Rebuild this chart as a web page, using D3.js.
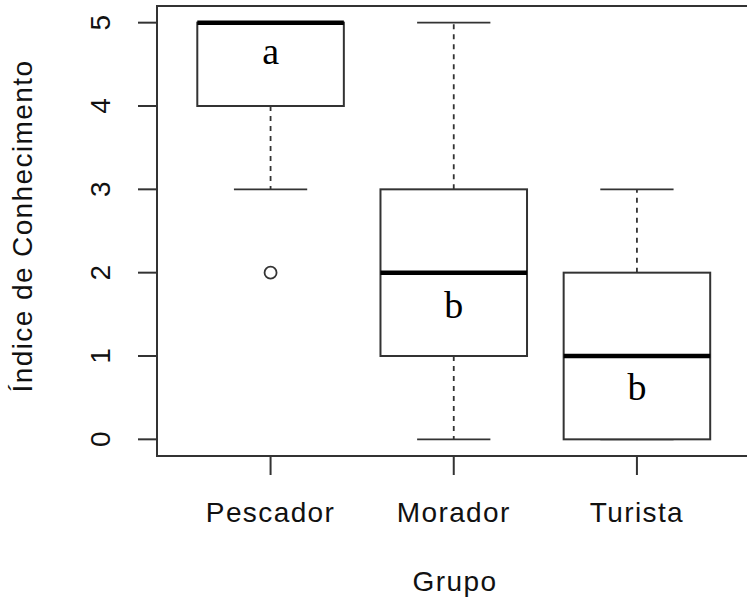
<!DOCTYPE html>
<html><head><meta charset="utf-8">
<script src="https://cdn.jsdelivr.net/npm/d3@7"></script>
<style>body{margin:0;background:#fff}svg{display:block}</style>
</head><body>
<svg id="c" width="747" height="598"></svg>
<script>
const groups = ["Pescador", "Morador", "Turista"];
const lowerWhisker = [3, 0, 0];
const q1 = [4, 1, 0];
const median = [5, 2, 1];
const q3 = [5, 3, 2];
const upperWhisker = [5, 5, 3];
const outliers = [[2], [], []];
const letters = ["a", "b", "b"];
const letterY = [4.65, 1.6, 0.62];
const yTicks = [0, 1, 2, 3, 4, 5];
const xTitle = "Grupo";
const yTitle = "Índice de Conhecimento";

const svg = d3.select("#c");
const x = d3.scaleLinear().domain([0.38, 3.62]).range([157, 750.5]);
const y = d3.scaleLinear().domain([-0.2, 5.2]).range([456, 6]);
const ink = "#333";
const sans = "Liberation Sans, Arial, sans-serif";
const fs = 28, ls = "1.4px";

const boxHalf = 0.4, stapleHalf = 0.2;

groups.forEach((g, i) => {
  const c = i + 1;
  const G = svg.append("g");
  G.append("line").attr("x1", x(c)).attr("x2", x(c)).attr("y1", y(q3[i])).attr("y2", y(upperWhisker[i]))
    .attr("stroke", ink).attr("stroke-width", 1.8).attr("stroke-dasharray", "5,5");
  G.append("line").attr("x1", x(c)).attr("x2", x(c)).attr("y1", y(q1[i])).attr("y2", y(lowerWhisker[i]))
    .attr("stroke", ink).attr("stroke-width", 1.8).attr("stroke-dasharray", "5,5");
  [lowerWhisker[i], upperWhisker[i]].forEach(v => {
    G.append("line").attr("x1", x(c - stapleHalf)).attr("x2", x(c + stapleHalf)).attr("y1", y(v)).attr("y2", y(v))
      .attr("stroke", ink).attr("stroke-width", 1.8);
  });
  G.append("rect").attr("x", x(c - boxHalf)).attr("y", y(q3[i]))
    .attr("width", x(c + boxHalf) - x(c - boxHalf)).attr("height", y(q1[i]) - y(q3[i]))
    .attr("fill", "#fff").attr("stroke", ink).attr("stroke-width", 2);
  G.append("line").attr("x1", x(c - boxHalf)).attr("x2", x(c + boxHalf)).attr("y1", y(median[i])).attr("y2", y(median[i]))
    .attr("stroke", "#000").attr("stroke-width", 4.5);
  outliers[i].forEach(v => {
    G.append("circle").attr("cx", x(c)).attr("cy", y(v)).attr("r", 6)
      .attr("fill", "none").attr("stroke", ink).attr("stroke-width", 1.8);
  });
  G.append("text").attr("x", x(c)).attr("y", y(letterY[i])).attr("dy", "0.32em")
    .attr("text-anchor", "middle").attr("font-family", "Liberation Serif, Times New Roman, serif")
    .attr("font-size", 38).attr("fill", "#000").text(letters[i]);
});

svg.append("path").attr("d", `M${x(3.62)},${y(5.2)}H${x(0.38)}V${y(-0.2)}H${x(3.62)}`)
  .attr("fill", "none").attr("stroke", ink).attr("stroke-width", 2);

const yAxis = svg.append("g");
yTicks.forEach(t => {
  yAxis.append("line").attr("x1", 138).attr("x2", 157).attr("y1", y(t)).attr("y2", y(t))
    .attr("stroke", ink).attr("stroke-width", 2);
  yAxis.append("text").attr("transform", `translate(100,${y(t)}) rotate(-90)`)
    .attr("text-anchor", "middle").attr("dy", "0.36em")
    .attr("font-family", sans).attr("font-size", fs).attr("fill", "#111").text(t);
});
groups.forEach((g, i) => {
  svg.append("line").attr("x1", x(i + 1)).attr("x2", x(i + 1)).attr("y1", 456).attr("y2", 475)
    .attr("stroke", ink).attr("stroke-width", 2);
  svg.append("text").attr("x", x(i + 1)).attr("y", 522).attr("text-anchor", "middle")
    .attr("font-family", sans).attr("font-size", fs).attr("letter-spacing", ls).attr("fill", "#111").text(g);
});
svg.append("text").attr("x", 455).attr("y", 591).attr("text-anchor", "middle")
  .attr("font-family", sans).attr("font-size", fs).attr("letter-spacing", ls).attr("fill", "#111").text(xTitle);
svg.append("text").attr("transform", `translate(32,226) rotate(-90)`).attr("text-anchor", "middle")
  .attr("font-family", sans).attr("font-size", fs).attr("letter-spacing", ls).attr("fill", "#111").text(yTitle);
</script>
</body></html>
